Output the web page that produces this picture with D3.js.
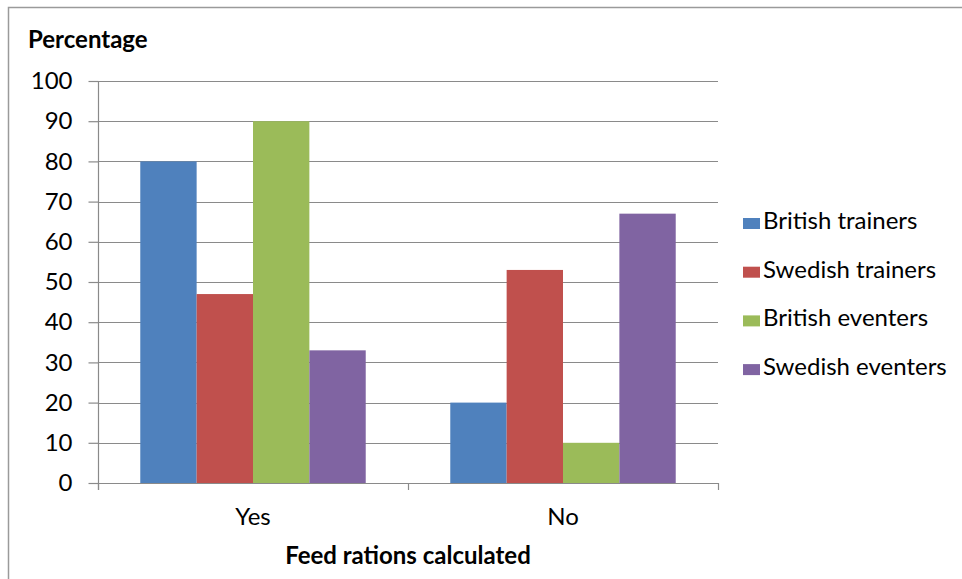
<!DOCTYPE html>
<html>
<head>
<meta charset="utf-8">
<script src="https://cdn.jsdelivr.net/npm/d3@7"></script>
<style>
  html, body { margin: 0; padding: 0; background: #fff; }
  svg { display: block; }
  text { font-family: Lato, "Open Sans", sans-serif; fill: #000; }
</style>
</head>
<body>
<svg id="chart" width="962" height="579"></svg>
<script>
// Survey answers: were feed rations calculated?
const categories = ["Yes", "No"];
const seriesNames = ["British trainers", "Swedish trainers", "British eventers", "Swedish eventers"];
const britishTrainers = [80, 20];
const swedishTrainers = [47, 53];
const britishEventers = [90, 10];
const swedishEventers = [33, 67];
const seriesColors = ["#4F81BD", "#C0504D", "#9BBB59", "#8064A2"];
const yTickValues = [0, 10, 20, 30, 40, 50, 60, 70, 80, 90, 100];

const seriesValues = [britishTrainers, swedishTrainers, britishEventers, swedishEventers];

const svg = d3.select("#chart");
const W = 962, H = 579;
const plot = { left: 98, right: 718, top: 81, bottom: 483 };
const gridColor = "#8a8a8a";
const fontSize = 24;

// outer frame
svg.append("rect")
  .attr("x", 8.5).attr("y", 7.5)
  .attr("width", W + 10).attr("height", H + 10)
  .attr("fill", "#fff").attr("stroke", "#9a9a9a").attr("stroke-width", 1.5);

const x0 = d3.scaleBand().domain(categories).range([plot.left, plot.right]).padding(0);
const x1 = d3.scaleBand().domain(seriesNames).range([0, x0.bandwidth()])
  .paddingInner(0).paddingOuter(0.75);
const y = d3.scaleLinear().domain([0, 100]).range([plot.bottom, plot.top]);

// horizontal gridlines
svg.append("g")
  .selectAll("line")
  .data(yTickValues.filter(v => v > 0))
  .join("line")
  .attr("x1", plot.left).attr("x2", plot.right)
  .attr("y1", d => Math.round(y(d)) + 0.5).attr("y2", d => Math.round(y(d)) + 0.5)
  .attr("stroke", gridColor).attr("stroke-width", 1.2);

// bars
const groups = svg.append("g")
  .selectAll("g")
  .data(categories)
  .join("g")
  .attr("transform", d => `translate(${x0(d)},0)`);

groups.selectAll("rect")
  .data((c, ci) => seriesNames.map((s, si) => ({ s, si, v: seriesValues[si][ci] })))
  .join("rect")
  .attr("x", d => x1(d.s))
  .attr("width", x1.bandwidth())
  .attr("y", d => y(d.v))
  .attr("height", d => y(0) - y(d.v))
  .attr("fill", (d) => seriesColors[d.si]);

// y axis
const yAxis = svg.append("g")
  .attr("transform", `translate(${plot.left + 0.5},0)`)
  .call(d3.axisLeft(y).tickValues(yTickValues).tickSize(10).tickSizeOuter(0).tickPadding(16));
yAxis.select(".domain").remove();
yAxis.selectAll(".tick line").attr("stroke", gridColor).attr("stroke-width", 1.2);
yAxis.selectAll(".tick text")
  .attr("font-family", "Lato, sans-serif")
  .attr("font-size", fontSize).attr("fill", "#000");
svg.append("line")
  .attr("x1", plot.left + 0.5).attr("x2", plot.left + 0.5)
  .attr("y1", plot.top).attr("y2", plot.bottom + 7)
  .attr("stroke", gridColor).attr("stroke-width", 1.2);

// x axis: baseline with ticks on category boundaries
const boundaries = categories.map(c => x0(c)).concat([x0.range()[1]]);
svg.append("line")
  .attr("x1", plot.left).attr("x2", plot.right)
  .attr("y1", plot.bottom + 0.5).attr("y2", plot.bottom + 0.5)
  .attr("stroke", gridColor).attr("stroke-width", 1.2);
svg.append("g")
  .selectAll("line")
  .data(boundaries)
  .join("line")
  .attr("x1", d => Math.round(d) + 0.5).attr("x2", d => Math.round(d) + 0.5)
  .attr("y1", plot.bottom).attr("y2", plot.bottom + 7)
  .attr("stroke", gridColor).attr("stroke-width", 1.2);

svg.append("g")
  .selectAll("text")
  .data(categories)
  .join("text")
  .attr("x", d => x0(d) + x0.bandwidth() / 2)
  .attr("y", 525)
  .attr("text-anchor", "middle")
  .attr("font-size", fontSize)
  .text(d => d);

// titles
svg.append("text")
  .attr("x", 28).attr("y", 48)
  .attr("font-size", fontSize).attr("font-weight", "bold")
  .text("Percentage");

svg.append("text")
  .attr("x", (plot.left + plot.right) / 2).attr("y", 564)
  .attr("text-anchor", "middle")
  .attr("font-size", fontSize).attr("font-weight", "bold")
  .text("Feed rations calculated");

// legend
const legend = svg.append("g")
  .selectAll("g")
  .data(seriesNames)
  .join("g")
  .attr("transform", (d, i) => `translate(743,${229 + i * 48.7})`);
legend.append("rect")
  .attr("x", 0).attr("y", -11).attr("width", 17).attr("height", 11)
  .attr("fill", (d, i) => seriesColors[i]);
legend.append("text")
  .attr("x", 20).attr("y", 0)
  .attr("font-size", fontSize)
  .text(d => d);
</script>
</body>
</html>
